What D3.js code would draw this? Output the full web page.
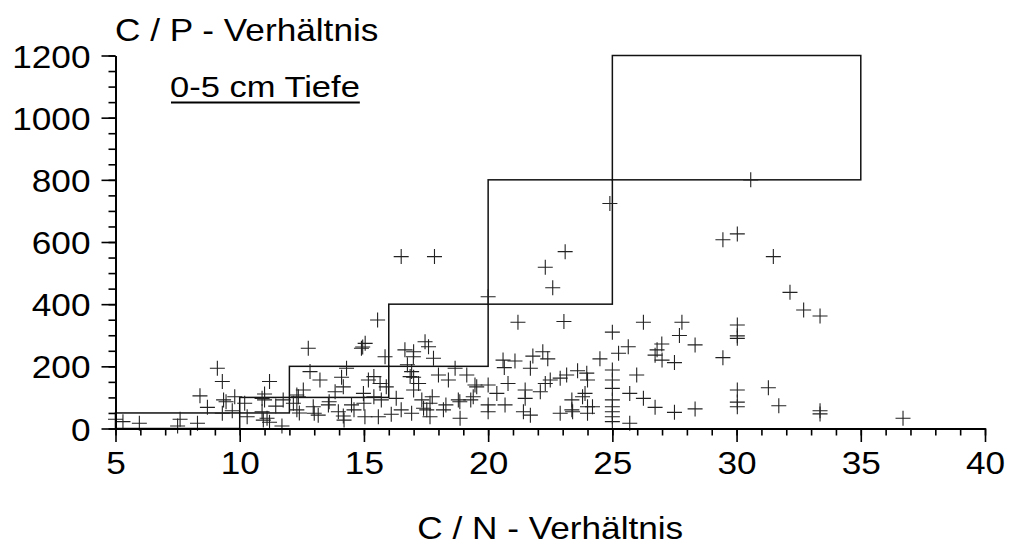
<!DOCTYPE html>
<html>
<head>
<meta charset="utf-8">
<script src="https://cdn.jsdelivr.net/npm/d3@7"></script>
<style>
  html, body { margin: 0; padding: 0; background: #fff; }
  svg { display: block; }
</style>
</head>
<body>
<div id="chart"></div>
<script>
// C/N vs C/P scatter, 0-5 cm depth, with the class staircase boxes

// C/N values (x) and matching C/P values (y)
const cnValues = [
  5.0, 5.3, 5.96, 7.5, 7.6, 8.3, 8.4, 8.7, 9.1, 9.3, 9.35, 9.45, 9.3, 9.8, 9.7,
  10.3, 10.2, 10.9, 11.2, 11.0, 11.0, 10.95, 11.2, 11.45, 11.75, 11.7,
  15.55, 12.76, 14.9, 14.95, 15.05, 15.85, 12.83, 13.23, 14.3, 14.1, 14.17, 13.84,
  12.56, 12.36, 12.16, 12.3, 12.4, 12.96, 13.16, 13.57, 13.97, 14.17, 14.5, 14.98,
  15.04, 15.18, 15.4, 15.65, 15.58, 15.7, 16.3, 16.5, 16.65, 16.99, 16.75, 16.92,
  17.0, 17.2, 17.46, 17.6, 17.8, 17.33, 17.53, 17.75, 18.0, 18.4, 18.67, 18.8,
  18.2, 16.92, 16.1,
  21.2, 23.05, 25.0, 25.25, 24.5, 22.2, 22.4, 21.8, 21.08, 20.6, 20.65, 21.7,
  23.6, 24.0, 23.16, 22.9, 22.5, 22.3, 22.1, 21.49, 21.49, 20.8, 20.35, 20.0,
  19.47, 19.4, 19.3, 19.14, 18.86, 18.87, 20.0, 20.0, 20.68, 21.42, 21.7, 22.9,
  23.37, 23.37, 23.8, 24.0, 24.2, 24.0, 25.0, 25.0, 25.0, 25.0, 25.0, 25.0, 25.0, 25.0,
  24.9, 23.1, 22.3, 22.6, 16.5, 17.84, 20.0, 26.25, 27.8, 29.45, 30.03, 30.57,
  31.48, 32.15, 32.7, 33.36,
  30.03, 30.03, 30.03, 27.7, 28.33, 26.99, 26.8, 26.72, 27.0, 27.5, 25.64, 29.45,
  25.98, 25.7, 26.25, 26.72, 27.5, 28.33, 25.7, 30.03, 30.03, 30.03, 31.28, 31.7,
  33.36, 33.36, 36.7,
  17.0, 17.4, 17.66, 18.3, 23.4, 23.97, 23.9, 17.0, 15.9, 16.86, 19.54, 17.66,
  10.9, 11.1, 12.3, 13.0, 13.6, 14.2, 14.6, 15.0, 15.4
];
const cpValues = [
  30, 22, 17, 8, 30, 17, 105, 68, 194, 151, 92, 86, 49, 102, 57,
  38, 81, 54, 151, 111, 92, 27, 20, 72, 92, 8,
  349, 258, 258, 262, 274, 231, 183, 156, 194, 165, 134, 118,
  124, 102, 81, 60, 50, 70, 43, 76, 54, 40, 76, 113,
  38, 156, 167, 145, 38, 92, 97, 60, 253, 231, 205, 183,
  165, 145, 279, 263, 226, 92, 60, 102, 172, 156, 194, 92,
  60, 49, 46,
  342, 344, 310, 242, 224, 247, 224, 233, 217, 220, 196, 194,
  186, 156, 172, 162, 156, 145, 118, 124, 97, 145, 113, 140,
  140, 102, 92, 172, 86, 33, 76, 54, 76, 54, 43, 49,
  92, 60, 102, 70, 70, 49, 188, 156, 129, 92, 70, 54, 38, 22,
  724, 569, 519, 453, 553, 553, 424, 342, 342, 607, 626, 800,
  553, 438, 381, 362,
  333, 298, 290, 299, 269, 272, 253, 236, 220, 212, 263, 228,
  172, 113, 97, 68, 52, 63, 17, 124, 85, 70, 131, 73,
  57, 47, 33,
  124, 65, 38, 76, 54, 178, 113, 247, 134, 167, 134, 81,
  97, 33, 108, 49, 86, 27, 60, 81, 102
];

// staircase class corners (C/N, C/P); box i spans corner i to corner i+1
const classCN = [5, 10, 12, 16, 20, 25, 35];
const classCP = [0, 50, 100, 200, 400, 800, 1200];

const xMajor = [5, 10, 15, 20, 25, 30, 35, 40];
const xMinor = d3.range(5, 41, 1);
const yMajor = [0, 200, 400, 600, 800, 1000, 1200];
const yMinor = d3.range(0, 1201, 50);

const xTitle = "C / N - Verhältnis";
const yTitle = "C / P - Verhältnis";
const depthLabel = "0-5 cm Tiefe";

const W = 1010, H = 545;
const FONT = "'Liberation Sans', Arial, Helvetica, sans-serif";
const STRETCH = 1.1;  // glyphs in the picture are drawn a little wide

const svg = d3.select("#chart").append("svg")
  .attr("width", W).attr("height", H);

const x = d3.scaleLinear().domain([5, 40]).range([115.5, 985]);
const y = d3.scaleLinear().domain([0, 1200]).range([428.5, 55.5]);

// boxes
const boxes = d3.range(classCN.length - 1).map(i => ({
  x0: classCN[i], x1: classCN[i + 1], y0: classCP[i], y1: classCP[i + 1]
}));
svg.append("g").selectAll("rect").data(boxes).enter().append("rect")
  .attr("x", d => x(d.x0)).attr("y", d => y(d.y1))
  .attr("width", d => x(d.x1) - x(d.x0))
  .attr("height", d => y(d.y0) - y(d.y1))
  .attr("fill", "none").attr("stroke", "#111").attr("stroke-width", 1.5);

// points as plus signs
const pts = cnValues.map((v, i) => [v, cpValues[i]]);
const arm = 7.5;
svg.append("g").selectAll("path").data(pts).enter().append("path")
  .attr("d", d => {
    const px = x(d[0]), py = y(d[1]);
    return `M${px - arm},${py}H${px + arm}M${px},${py - arm}V${py + arm}`;
  })
  .attr("fill", "none").attr("stroke", "#222").attr("stroke-width", 1.1);

// axes
function styleAxis(g) {
  g.selectAll("path, line").attr("stroke", "#000").attr("stroke-width", 1.6);
}

svg.append("g").attr("transform", `translate(0,${y(0)})`)
  .call(d3.axisBottom(x).tickValues(xMinor).tickSize(7).tickSizeOuter(0).tickFormat(""))
  .call(styleAxis);
const xAx = svg.append("g").attr("transform", `translate(0,${y(0)})`)
  .call(d3.axisBottom(x).tickValues(xMajor).tickSize(13.5).tickSizeOuter(0).tickFormat(d3.format("d")))
  .call(styleAxis);
xAx.selectAll("text")
  .attr("y", 46).attr("dy", null)
  .attr("font-size", "32px").attr("font-family", FONT).attr("fill", "#000")
  .attr("transform", `scale(${STRETCH},1)`);

svg.append("g").attr("transform", `translate(${x(5)},0)`)
  .call(d3.axisLeft(y).tickValues(yMinor).tickSize(7).tickSizeOuter(0).tickFormat(""))
  .call(styleAxis);
const yAx = svg.append("g").attr("transform", `translate(${x(5)},0)`)
  .call(d3.axisLeft(y).tickValues(yMajor).tickSize(14).tickSizeOuter(0).tickFormat(d3.format("d")))
  .call(styleAxis);
yAx.selectAll("text")
  .attr("x", -25 / STRETCH).attr("dy", "0.36em")
  .attr("font-size", "32px").attr("font-family", FONT).attr("fill", "#000")
  .attr("transform", `scale(${STRETCH},1)`);
svg.selectAll(".domain").attr("stroke-width", 1.8);

// titles
svg.append("text")
  .attr("transform", `translate(${(x(5) + x(40)) / 2},538.5) scale(${STRETCH},1)`)
  .attr("text-anchor", "middle")
  .attr("font-size", "32px").attr("font-family", FONT).attr("fill", "#000")
  .text(xTitle);

svg.append("text")
  .attr("transform", `translate(115,41) scale(${STRETCH},1)`)
  .attr("font-size", "32px").attr("font-family", FONT).attr("fill", "#000")
  .text(yTitle);

const labStretch = 1.17;
const lab = svg.append("text")
  .attr("transform", `translate(170,96.5) scale(${labStretch},1)`)
  .attr("font-size", "29.5px").attr("font-family", FONT).attr("fill", "#000")
  .text(depthLabel);
const lw = lab.node().getComputedTextLength() * labStretch;
svg.append("line")
  .attr("x1", 171).attr("x2", 170 + lw)
  .attr("y1", 102.5).attr("y2", 102.5)
  .attr("stroke", "#000").attr("stroke-width", 2);
</script>
</body>
</html>
